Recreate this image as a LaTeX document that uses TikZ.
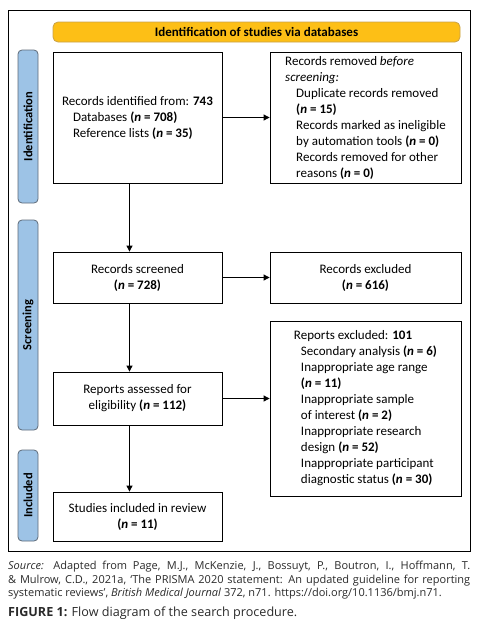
\documentclass[tikz,border=0pt]{standalone}
\usepackage{fontspec}
\setmainfont{Carlito}
\newfontfamily\srcfont{Open Sans}
\usetikzlibrary{arrows.meta,calc}
\definecolor{banner}{HTML}{FDBF16}
\definecolor{bannerborder}{HTML}{C8A24A}
\definecolor{side}{HTML}{9DC3E6}
\definecolor{sideborder}{HTML}{5E6A78}
\definecolor{captxt}{HTML}{2A2A2A}
\newcommand{\nn}[1]{\textbf{(\textit{n}~=~#1)}}
\begin{document}
\begin{tikzpicture}[x=1pt,y=-1pt,
  box/.style={draw, line width=0.8pt, align=left, inner sep=0pt, font=\fontsize{13}{16}\selectfont},
  sidebar/.style={draw=sideborder, fill=side, line width=0.8pt, rounded corners=4pt, minimum width=20pt, inner sep=0pt},
  sidelabel/.style={rotate=90, font=\bfseries\fontsize{12.5}{14}\selectfont},
  arr/.style={line width=0.8pt, -{Triangle[length=6pt,width=6pt]}}]
\useasboundingbox (0,0) rectangle (483,627);
\draw[line width=0.8pt] (8,10) rectangle (470,551);
\node[draw=bannerborder, fill=banner, line width=0.8pt, rounded corners=5pt, minimum width=407pt, minimum height=20pt, inner sep=0pt, font=\bfseries\fontsize{13}{14}\selectfont] (banner) at (256.5,32) {Identification of studies via databases};
\node[sidebar, minimum height=153pt] (sid) at (28,126.5) {};
\node[sidelabel] (sidl) at (sid.center) {Identification};
\node[sidebar, minimum height=210pt] (ssc) at (28,325) {};
\node[sidelabel] (sscl) at (ssc.center) {Screening};
\node[sidebar, minimum height=91pt] (sin) at (28,495.5) {};
\node[sidelabel] (sinl) at (sin.center) {Included};
\node[box, minimum width=169pt, minimum height=131pt] (ident) at (137.5,117.5) {Records identified from: \textbf{743}\\\hspace*{11pt}Databases \nn{708}\\\hspace*{11pt}Reference lists \nn{35}};
\node[box, minimum width=191pt, minimum height=131pt] (removed) at (365.5,117.5) {Records removed \textit{before}\\\textit{screening:}\\\hspace*{11pt}Duplicate records removed\\\hspace*{11pt}\nn{15}\\\hspace*{11pt}Records marked as ineligible\\\hspace*{11pt}by automation tools \nn{0}\\\hspace*{11pt}Records removed for other\\\hspace*{11pt}reasons \nn{0}};
\node[box, align=center, minimum width=169pt, minimum height=51pt] (screened) at (137.5,277.5) {Records screened\\\nn{728}};
\node[box, align=center, minimum width=191pt, minimum height=51pt] (excluded) at (365.5,277.5) {Records excluded\\\nn{616}};
\node[box, align=center, minimum width=169pt, minimum height=53pt] (assessed) at (137.5,398.5) {Reports assessed for\\eligibility \nn{112}};
\node[box, minimum width=191pt, minimum height=175pt] (repexcl) at (365.5,408.5) {Reports excluded: \textbf{101}\\\hspace*{7pt}Secondary analysis \nn{6}\\\hspace*{7pt}Inappropriate age range\\\hspace*{7pt}\nn{11}\\\hspace*{7pt}Inappropriate sample\\\hspace*{7pt}of interest \nn{2}\\\hspace*{7pt}Inappropriate research\\\hspace*{7pt}design \nn{52}\\\hspace*{7pt}Inappropriate participant\\\hspace*{7pt}diagnostic status \nn{30}};
\node[box, align=center, minimum width=169pt, minimum height=49pt] (included) at (137.5,516.5) {Studies included in review\\\nn{11}};
\draw[arr] (ident.east) -- (removed.west);
\draw[arr] (screened.east) -- (excluded.west);
\draw[arr] (assessed.east) -- (assessed.east -| repexcl.west);
\draw[arr] ([xshift=-8pt]ident.south) -- ([xshift=-8pt]screened.north);
\draw[arr] ([xshift=-8pt]screened.south) -- ([xshift=-8pt]assessed.north);
\draw[arr] ([xshift=-8pt]assessed.south) -- ([xshift=-8pt]included.north);
\node[anchor=north west, inner sep=0pt, text width=462pt, align=justify, text=captxt, font=\srcfont\fontsize{11}{13.6}\selectfont] (source) at (8,561) {\textit{Source:} Adapted from Page, M.J., McKenzie, J., Bossuyt, P., Boutron, I., Hoffmann, T.\linebreak \& Mulrow, C.D., 2021a, ‘The PRISMA 2020 statement: An updated guideline for reporting\linebreak systematic reviews’, \textit{British Medical Journal} 372, n71. https://doi.org/10.1136/bmj.n71.};
\node[anchor=north west, inner sep=0pt, text=captxt, font=\srcfont\fontsize{12.6}{14}\selectfont] (caption) at (8,607) {\textbf{FIGURE 1:} Flow diagram of the search procedure.};
\end{tikzpicture}
\end{document}
